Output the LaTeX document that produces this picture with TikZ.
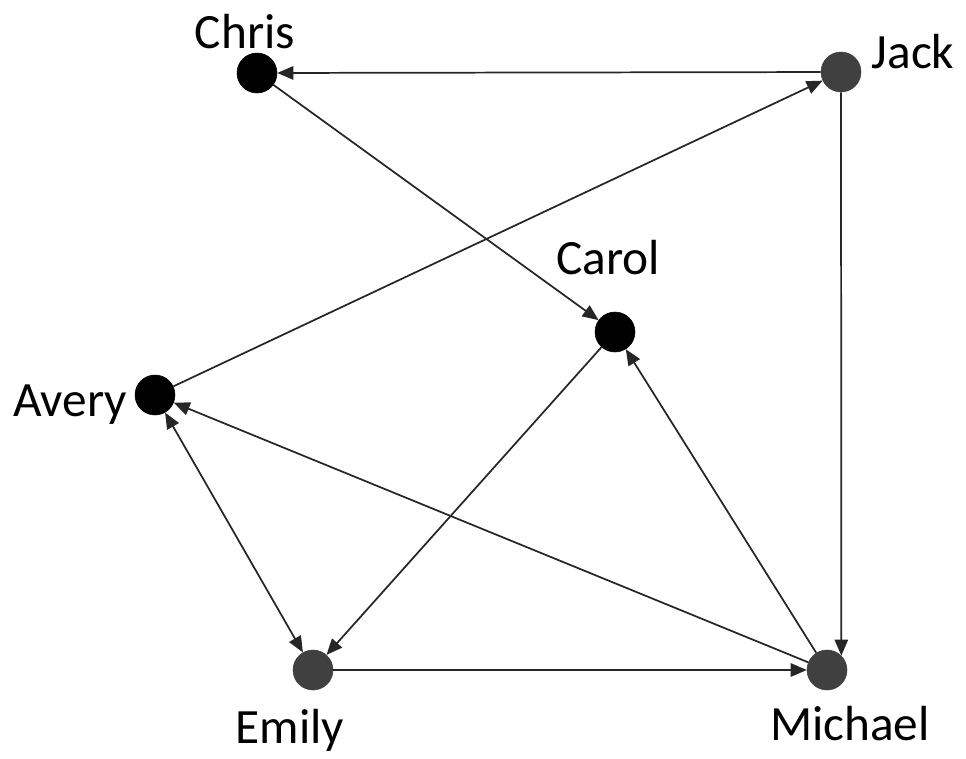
\documentclass[tikz,border=0pt]{standalone}
\usepackage{fontspec}
\setmainfont{Carlito}
\usepackage{xcolor}
\definecolor{dotgray}{HTML}{404040}
\usetikzlibrary{arrows.meta,positioning}
\tikzset{
  dot/.style={circle, fill=black, draw=black, inner sep=0pt, minimum size=30pt},
  dotg/.style={dot, fill=dotgray, draw=dotgray},
  lbl/.style={font=\fontsize{37}{44}\selectfont, inner sep=0pt},
  ar/.style={-{Triangle[length=12pt,width=10pt]}, draw=black!85, line width=1.3pt},
  ar2/.style={ar, {Triangle[length=12pt,width=10pt]}-{Triangle[length=12pt,width=10pt]}},
}
\begin{document}
\begin{tikzpicture}[x=0.75pt, y=-0.75pt]
  \useasboundingbox (0,0) rectangle (966,758);
  % people
  \node[dot]  (chris)   at (257,73)  {};
  \node[dotg] (jack)    at (841,72)  {};
  \node[dot]  (carol)   at (615,332) {};
  \node[dot]  (avery)   at (155,395) {};
  \node[dotg] (emily)   at (313,670) {};
  \node[dotg] (michael) at (827,670) {};
  % names
  \node[lbl] (lchris)   at (245,32)  {Chris};
  \node[lbl] (ljack)    at (913,52)  {Jack};
  \node[lbl] (lcarol)   at (608,258) {Carol};
  \node[lbl] (lavery)   at (70,405)  {Avery};
  \node[lbl] (lemily)   at (290,730) {Emily};
  \node[lbl] (lmichael) at (850,724) {Michael};
  % links
  \draw[ar] (jack) -- (chris);
  \draw[ar] (avery) -- (jack);
  \draw[ar] (chris) -- (carol);
  \draw[ar] (jack.south) -- (michael.45);
  \draw[ar] (carol) -- (emily);
  \draw[ar] (michael) -- (carol);
  \draw[ar] (michael) -- (avery);
  \draw[ar2] (avery) -- (emily);
  \draw[ar] (emily) -- (michael);
\end{tikzpicture}
\end{document}
